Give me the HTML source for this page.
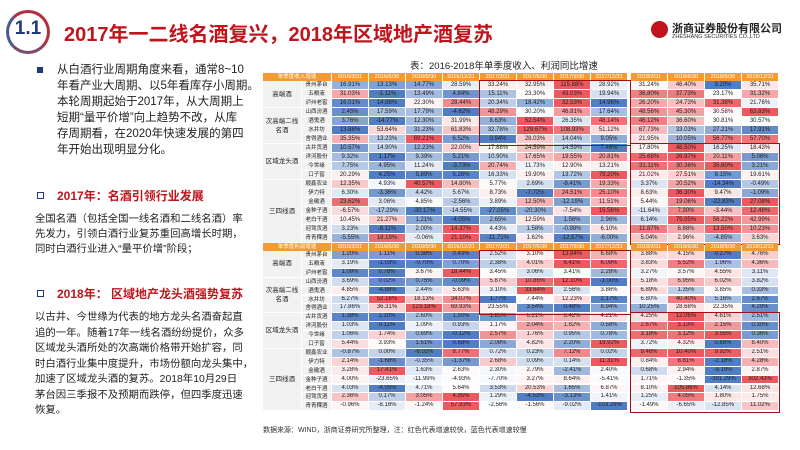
<!DOCTYPE html>
<html><head><meta charset="utf-8"><style>
body{margin:0;width:800px;height:450px;background:#fff;position:relative;overflow:hidden;font-family:"Liberation Sans","Noto Sans CJK SC",sans-serif;}
.a{position:absolute;}
.p{position:absolute;left:0;font-size:11.5px;line-height:16px;color:#222;white-space:nowrap;}
.q{position:absolute;left:0;font-size:10.4px;line-height:15px;color:#222;white-space:nowrap;}
.cell{position:absolute;font-size:6px;line-height:8px;text-align:center;color:#222;white-space:nowrap;overflow:hidden;}
.hd{position:absolute;background:#f39a33;color:#fff;font-size:5.5px;line-height:8px;text-align:center;}
</style></head><body>
<div class="a" style="left:6px;top:10px;width:38px;height:38px;border-radius:50%;border:3px solid #b03044;border-left-color:#4b5a8f;border-bottom-color:#7a4a6a;"></div>
<div class="a" style="left:10px;top:18px;width:36px;text-align:center;font-size:19px;font-weight:bold;color:#1f3a7a;">1.1</div>
<div class="a" style="left:64px;top:18px;font-size:20px;font-weight:bold;color:#c0141c;">2017年一二线名酒复兴，2018年区域地产酒复苏</div>
<div class="a" style="left:651px;top:21px;width:17px;height:17px;border-radius:50%;background:#c0141c;"></div>
<div class="a" style="left:672px;top:20px;font-size:11px;font-weight:bold;color:#222;">浙商证券股份有限公司</div>
<div class="a" style="left:672px;top:34px;font-size:5.5px;color:#333;">ZHESHANG SECURITIES CO.,LTD</div>

<div class="a" style="left:37px;top:67px;width:6px;height:6px;background:#1f3a7a;"></div>
<div class="a" style="left:57px;top:62px;width:190px;">
<div class="p" style="top:0">从白酒行业周期角度来看，通常8~10</div>
<div class="p" style="top:16px">年看产业大周期、以5年看库存小周期。</div>
<div class="p" style="top:32px">本轮周期起始于2017年，从大周期上</div>
<div class="p" style="top:48px">短期“量平价增”向上趋势不改，从库</div>
<div class="p" style="top:64px">存周期看，在2020年快速发展的第四</div>
<div class="p" style="top:80px">年开始出现明显分化。</div>
</div>
<div class="a" style="left:37px;top:192px;width:5px;height:5px;border:1.5px solid #1f3a7a;"></div>
<div class="a" style="left:57px;top:187px;font-size:12px;font-weight:bold;color:#c0141c;">2017年：名酒引领行业发展</div>
<div class="a" style="left:35px;top:212px;">
<div class="q" style="top:0">全国名酒（包括全国一线名酒和二线名酒）率</div>
<div class="q" style="top:15px">先发力，引领白酒行业复苏重回高增长时期，</div>
<div class="q" style="top:30px">同时白酒行业进入“量平价增”阶段；</div>
</div>
<div class="a" style="left:37px;top:290px;width:5px;height:5px;border:1.5px solid #1f3a7a;"></div>
<div class="a" style="left:57px;top:285px;font-size:12px;font-weight:bold;color:#c0141c;">2018年： 区域地产龙头酒强势复苏</div>
<div class="a" style="left:35px;top:310px;">
<div class="q" style="top:0">以古井、今世缘为代表的地方龙头名酒奋起直</div>
<div class="q" style="top:15.5px">追的一年。随着17年一线名酒纷纷提价，众多</div>
<div class="q" style="top:31px">区域龙头酒所处的次高端价格带开始扩容，同</div>
<div class="q" style="top:46.5px">时白酒行业集中度提升，市场份额向龙头集中，</div>
<div class="q" style="top:62px">加速了区域龙头酒的复苏。2018年10月29日</div>
<div class="q" style="top:77.5px">茅台因三季报不及预期而跌停，但四季度迅速</div>
<div class="q" style="top:93px">恢复。</div>
</div>

<div class="a" style="left:410px;top:58px;font-size:9.5px;color:#222;">表：2016-2018年单季度收入、利润同比增速</div>
<div class="a" style="left:263px;top:425px;font-size:7px;color:#333;">数据来源：WIND，浙商证券研究所整理，注：红色代表增速较快，蓝色代表增速较慢</div>
<div id="tables"></div>

<script>
const periods=["2016/3/31","2016/6/30","2016/9/30","2016/12/31","2017/3/31","2017/6/30","2017/9/30","2017/12/31","2018/3/31","2018/6/30","2018/9/30","2018/12/31"];
const companies=["贵州茅台","五粮液","泸州老窖","山西汾酒","酒鬼酒","水井坊","舍得酒业","古井贡酒","洋河股份","今世缘","口子窖","顺鑫农业","伊力特","金徽酒","金种子酒","老白干酒","迎驾贡酒","青青稞酒"];
const groups=["高端酒","次高端二线名酒","区域龙头酒","三四线酒"];
const groupSizes=[3,4,4,7];
const revenue=[
[16.91,13.13,14.77,28.59,33.24,32.95,115.88,28.92,31.24,46.40,3.20,35.71],
[31.03,-1.11,13.49,4.84,15.11,23.30,43.03,19.94,36.80,37.73,23.17,31.32],
[16.01,14.98,22.30,28.44,20.34,18.42,32.53,14.96,26.20,24.73,31.38,21.76],
[2.45,17.59,17.79,-4.62,48.29,30.20,46.81,17.64,48.56,45.30,30.58,63.83],
[3.76,-14.77,12.30,31.99,8.63,52.54,26.35,48.14,46.12,36.60,30.81,30.57],
[13.88,53.64,31.23,61.83,32.78,129.67,108.93,51.12,67.73,33.03,27.21,17.91],
[35.35,13.23,69.21,6.52,0.94,28.03,14.04,9.05,21.95,10.05,56.77,57.70],
[10.57,14.90,12.23,22.00,17.88,24.59,14.59,7.46,17.80,48.50,16.25,18.43],
[9.32,1.17,9.39,5.21,10.90,17.65,19.55,20.81,25.68,26.97,20.11,5.06],
[7.75,4.95,11.24,-3.73,20.74,11.73,12.90,13.21,31.11,30.36,35.60,3.21],
[20.29,4.25,5.89,5.26,16.33,19.90,13.72,79.20,21.02,27.51,8.15,19.61],
[12.35,4.93,40.57,14.80,5.77,2.69,-8.41,19.33,3.37,20.52,-14.34,-0.49],
[6.30,-3.36,4.42,5.67,8.73,-7.72,24.51,25.10,8.63,36.30,9.47,-1.09],
[23.62,3.06,4.85,-2.56,3.89,12.50,-12.19,11.51,5.44,19.06,-22.83,27.08],
[-6.57,-17.29,-30.17,-14.55,-27.05,-20.30,-7.54,15.56,-11.64,7.30,-3.44,12.48],
[10.45,21.27,1.21,-4.05,2.65,12.59,1.56,2.96,6.14,75.05,56.22,42.99],
[3.23,-8.11,2.00,14.37,4.43,1.58,-0.98,6.10,11.87,8.88,13.50,10.23],
[-5.55,18.19,-0.06,21.10,-11.71,1.62,-12.57,-6.00,5.04,2.96,-4.85,3.63]];
const profit=[
[1.20,1.11,0.38,0.43,2.52,3.10,13.84,6.68,3.88,4.15,0.27,4.76],
[3.19,-1.03,-0.70,0.70,2.38,4.01,6.41,6.09,3.83,5.52,1.96,4.36],
[1.09,0.78,3.67,18.44,3.45,3.06,3.41,2.28,3.27,3.57,4.55,3.11],
[3.69,0.02,0.75,-0.09,5.87,10.86,12.10,-1.00,5.18,6.95,6.02,3.82],
[4.85,-4.88,2.44,5.63,3.10,33.64,2.56,3.86,6.89,1.35,3.85,0.33],
[6.27,52.16,18.13,34.07,1.77,7.44,12.23,2.17,6.80,40.40,5.16,2.67],
[17.86,36.31,123.18,69.93,23.55,3.54,0.48,8.94,10.25,28.68,22.35,4.29],
[1.38,1.20,2.60,1.50,1.85,6.21,6.42,4.21,4.25,12.06,4.61,2.51],
[1.03,0.11,1.09,0.93,1.17,2.04,1.82,0.58,2.67,3.13,2.15,0.30],
[1.06,1.74,0.69,-0.12,2.57,1.76,0.95,0.78,3.18,3.12,3.55,0.36],
[5.44,3.93,1.51,0.68,2.08,4.82,2.20,19.92,3.72,4.32,0.68,8.40],
[-0.87,0.00,-6.02,8.77,0.72,0.23,7.12,0.02,9.46,10.40,9.92,2.51],
[2.14,-1.68,-0.35,-1.37,2.68,0.09,0.14,11.31,0.84,8.81,-2.18,4.28],
[3.28,17.41,1.63,2.63,2.30,2.79,-2.41,2.40,0.68,2.94,-9.19,2.87],
[4.00,-23.65,-11.99,-4.93,-7.70,3.27,8.64,-5.41,1.71,-1.35,-391.29,302.43],
[4.03,-4.05,4.71,5.64,3.53,20.53,1.65,6.87,8.10,105.86,4.14,12.68],
[2.36,0.17,3.05,4.95,1.29,-4.53,-3.13,1.41,1.25,4.05,1.80,1.75],
[-0.96,-8.16,-1.24,57.93,-2.56,-1.56,-9.02,-103.29,-1.49,-6.65,-12.85,11.02]];
const tableTitles=["单季度收入增速","单季度利润增速"];

const root=document.getElementById('tables');
function colX(i){return 332+i*37+(i>=8?3:0);}
function color(row,v){
  const s=[...row].sort((a,b)=>a-b);const med=(s[5]+s[6])/2,mn=s[0],mx=s[11];
  let t;
  if(v>=med){t=mx>med?(v-med)/(mx-med):0;t=Math.pow(t,0.7);
    return `rgb(${Math.round(255-(255-236)*t)},${Math.round(255-(255-90)*t)},${Math.round(255-(255-95)*t)})`;}
  t=med>mn?(med-v)/(med-mn):0;t=Math.pow(t,0.7);
  return `rgb(${Math.round(255-(255-80)*t)},${Math.round(255-(255-125)*t)},${Math.round(255-(255-195)*t)})`;
}
function addDiv(cls,l,t,w,h,txt,bg){const d=document.createElement('div');d.className=cls;d.style.left=l+'px';d.style.top=t+'px';d.style.width=w+'px';d.style.height=h+'px';if(bg)d.style.background=bg;d.textContent=txt;root.appendChild(d);return d;}
function drawTable(top,rh,data,title){
  let h=addDiv('hd',263,top,68,7.5,title);
  
  
  periods.forEach((p,i)=>{const d=addDiv('hd',colX(i),top,36,7.5,p);
    
    });
  const y0=top+8;
  let r=0;
  groups.forEach((g,gi)=>{
    const n=groupSizes[gi];
    const gd=addDiv('cell',263,y0+r*rh,38,n*rh-1,'','#f2f2f2');
    gd.style.display='flex';gd.style.alignItems='center';gd.style.justifyContent='center';gd.style.whiteSpace='normal';gd.style.fontSize='6.5px';gd.style.lineHeight='9px';
    gd.textContent=g;
    
    
    r+=n;
  });
  companies.forEach((c,ri)=>{
    const y=y0+ri*rh;
    const nd=addDiv('cell',302,y,29,rh-1,c,'#f2f2f2');
    nd.style.fontSize='5.5px';
    
    
    data[ri].forEach((v,ci)=>{
      const d=addDiv('cell',colX(ci),y,36,rh-1,v.toFixed(2)+'%',color(data[ri],v));
      d.style.lineHeight=(rh-1)+'px';
      
      
    });
  });
  const b1=addDiv('a',colX(4)-1,y0-1,colX(8)-colX(4)-1,7*rh+1,'');
  b1.style.border='1.5px solid #a01010';
  
  
  const b2=addDiv('a',colX(8)-1,y0+7*rh-1,colX(11)+36-colX(8)+1,11*rh+1,'');
  b2.style.border='1.5px solid #a01010';
  
  
}
drawTable(73,9,revenue,tableTitles[0]);
drawTable(243,8.9,profit,tableTitles[1]);
</script>
</body></html>
